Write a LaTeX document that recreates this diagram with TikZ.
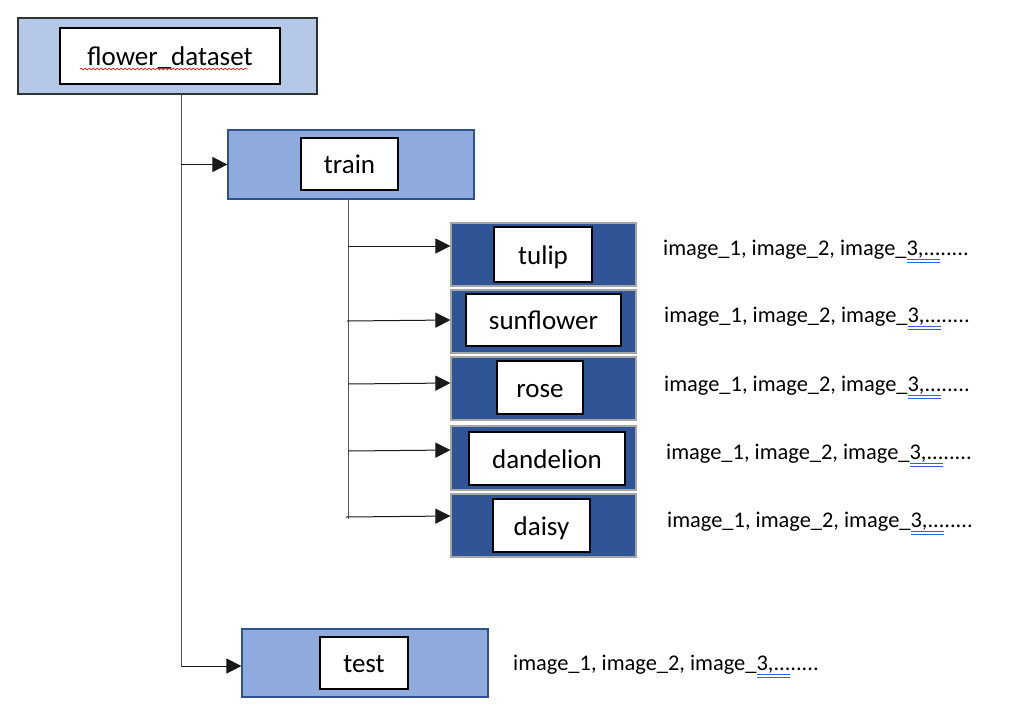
\documentclass[tikz,border=0pt]{standalone}
\usepackage{fontspec}
\setmainfont{Carlito}
\usetikzlibrary{arrows.meta,decorations.pathmorphing}
\definecolor{lightbox}{HTML}{B4C7E7}
\definecolor{midbox}{HTML}{8FAADC}
\definecolor{darkbox}{HTML}{2F5597}
\definecolor{boxedge}{HTML}{2F528F}
\definecolor{lineclr}{HTML}{555555}
\definecolor{spellred}{HTML}{E02020}
\definecolor{spellblue}{HTML}{3060E0}
\tikzset{
  outerbox/.style={draw=boxedge, line width=1.2pt, inner sep=0pt},
  topbox/.style={outerbox, draw=black!80, fill=lightbox},
  secbox/.style={outerbox, fill=midbox},
  classbox/.style={outerbox, draw=gray!70, fill=darkbox},
  innerbox/.style={draw=black, line width=1.6pt, fill=white, inner sep=0pt,
    text height=21pt, text depth=2pt,
    font=\fontsize{27}{32}\selectfont},
  imglabel/.style={anchor=west, inner sep=0pt, font=\fontsize{22.4}{26}\selectfont},
  conn/.style={draw=lineclr, line width=1pt},
  arr/.style={draw=black!90, line width=1pt, -{Triangle[length=15pt,width=15pt]}},
}
\begin{document}
\begin{tikzpicture}[x=1pt,y=-1pt]
\useasboundingbox (0,0) rectangle (1009,705);
% outer boxes
\node[topbox, minimum width=299pt, minimum height=76pt] (flowerbox) at (167.5,56) {};
\node[secbox, minimum width=246pt, minimum height=69pt] (trainbox) at (351,164.5) {};
\node[classbox, minimum width=185pt, minimum height=63pt] (tulipbox) at (543.5,254.5) {};
\node[classbox, minimum width=185pt, minimum height=63pt] (sunbox) at (543.5,321.5) {};
\node[classbox, minimum width=185pt, minimum height=63pt] (rosebox) at (543.5,388.5) {};
\node[classbox, minimum width=185pt, minimum height=64pt] (dandbox) at (543.5,458) {};
\node[classbox, minimum width=185pt, minimum height=63pt] (daisybox) at (543.5,525.5) {};
\node[secbox, minimum width=246pt, minimum height=68pt] (testbox) at (365,663) {};
% inner boxes
\node[innerbox, minimum width=220pt, minimum height=56pt] (flowertxt) at (170,56) {flower\_dataset};
\node[innerbox, minimum width=97pt, minimum height=52pt] (traintxt) at (349.5,164) {train};
\node[innerbox, minimum width=98pt, minimum height=55pt] (tuliptxt) at (543,254.5) {tulip};
\node[innerbox, minimum width=155pt, minimum height=52pt] (suntxt) at (543.5,320) {sunflower};
\node[innerbox, minimum width=86pt, minimum height=53pt] (rosetxt) at (540,387.5) {rose};
\node[innerbox, minimum width=156pt, minimum height=53pt] (dandtxt) at (547,458.5) {dandelion};
\node[innerbox, minimum width=97pt, minimum height=53pt] (daisytxt) at (541.5,525.5) {daisy};
\node[innerbox, minimum width=88pt, minimum height=52pt] (testtxt) at (364,663) {test};
% labels
\node[imglabel] (l1) at (663,249.5) {image\_1, image\_2, image\_3,........};
\node[imglabel] (l2) at (664,316.5) {image\_1, image\_2, image\_3,........};
\node[imglabel] (l3) at (664,385.5) {image\_1, image\_2, image\_3,........};
\node[imglabel] (l4) at (666,453.5) {image\_1, image\_2, image\_3,........};
\node[imglabel] (l5) at (667,521.5) {image\_1, image\_2, image\_3,........};
\node[imglabel] (l6) at (513,664.5) {image\_1, image\_2, image\_3,........};
% connectors from root
\coordinate (rootdown) at (181,94);
\coordinate (rootend) at (181,666);
\draw[conn] (rootdown) -- (rootend);
\draw[arr] (rootdown |- trainbox.west) -- (trainbox.west);
\draw[arr] (rootend) -- (rootend -| testbox.west);
% connectors from train
\coordinate (traindown) at (348,199);
\coordinate (trainend) at (348,519);
\draw[conn] (traindown) -- (trainend);
\draw[arr] (traindown |- 0,246) -- (tulipbox.west |- 0,246);
\draw[arr] (347,321) -- (sunbox.west |- 0,320);
\draw[arr] (traindown |- 0,384) -- (rosebox.west |- 0,383);
\draw[arr] (traindown |- 0,451) -- (dandbox.west |- 0,450);
\draw[arr] (346,517) -- (daisybox.west |- 0,516);
% spell-check marks
\draw[spellred, line width=0.7pt, decorate, decoration={snake, amplitude=0.9pt, segment length=4pt}] (80,69) -- (248,69);
\foreach \ly/\lx in {249/907, 316/908, 385/908, 453/910, 521/911, 664/757}{
  \draw[spellblue, line width=0.6pt] (\lx,\ly+10.5) -- ++(33,0);
  \draw[spellblue, line width=0.6pt] (\lx,\ly+13) -- ++(33,0);
}
\end{tikzpicture}
\end{document}
